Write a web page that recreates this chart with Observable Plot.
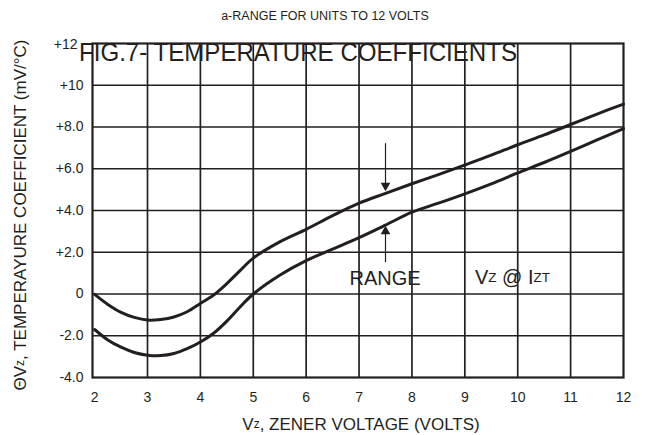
<!DOCTYPE html>
<html><head><meta charset="utf-8">
<script src="https://cdn.jsdelivr.net/npm/d3@7"></script>
<script src="https://cdn.jsdelivr.net/npm/@observablehq/plot@0.6"></script>
<style>body{margin:0;background:#fff;} svg{display:block;}</style>
</head><body><div id="chart"></div>
<script>
// Data
const voltage = [2.0,2.25,2.5,2.75,3.0,3.25,3.5,3.75,4.0,4.25,4.5,4.75,5.0,5.5,6.0,6.5,7.0,7.5,8.0,8.5,9.0,9.5,10.0,10.5,11.0,11.5,12.0];
const upperTC = [-0.02,-0.5,-0.88,-1.12,-1.25,-1.22,-1.1,-0.85,-0.45,-0.05,0.5,1.12,1.72,2.5,3.1,3.75,4.35,4.82,5.28,5.72,6.18,6.65,7.15,7.62,8.12,8.62,9.1];
const lowerTC = [-1.7,-2.2,-2.55,-2.8,-2.93,-2.95,-2.85,-2.62,-2.3,-1.88,-1.3,-0.62,0.0,0.9,1.6,2.15,2.7,3.3,3.92,4.35,4.8,5.28,5.8,6.3,6.83,7.38,7.92];
const xTicks = [2,3,4,5,6,7,8,9,10,11,12];
const yTicks = [-4,-2,0,2,4,6,8,10,12];
const yTickLabels = ["-4.0","-2.0","0","+2.0","+4.0","+6.0","+8.0","+10","+12"];
const arrowX = [7.5, 7.5];
const arrowFrom = [7.2, 1.5];
const arrowTo = [5.05, 3.14];
const arrowDir = ["down", "up"];
const titleText = "FIG.7- TEMPERATURE COEFFICIENTS";
const subtitleText = "a-RANGE FOR UNITS TO 12 VOLTS";

const ink = "#231f20";
const font = "'Liberation Sans', Arial, Helvetica, sans-serif";

const curves = [];
voltage.forEach((v, i) => {
  curves.push({series: "upper", v, tc: upperTC[i]});
  curves.push({series: "lower", v, tc: lowerTC[i]});
});
const arrows = arrowX.map((x, i) => ({x, y1: arrowFrom[i], y2: arrowTo[i], dir: arrowDir[i]}));
const labelMap = new Map(yTicks.map((t, i) => [t, yTickLabels[i]]));

const svg = Plot.plot({
  width: 650,
  height: 435,
  marginLeft: 92,
  marginRight: 27,
  marginTop: 43,
  marginBottom: 58,
  style: {fontFamily: font, fontSize: "14px", color: ink, background: "#fff"},
  x: {domain: [1.96, 12], label: null},
  y: {domain: [-4, 12], label: null},
  marks: [
    Plot.ruleX(xTicks.slice(1, -1), {stroke: ink, strokeWidth: 1.7}),
    Plot.ruleY(yTicks.slice(1, -1), {stroke: ink, strokeWidth: 1.7}),
    Plot.frame({stroke: ink, strokeWidth: 2.2}),
    Plot.axisX({ticks: xTicks, tickSize: 0, tickPadding: 15, fontSize: 14, label: null}),
    Plot.axisY({ticks: yTicks, tickSize: 0, tickPadding: 9, fontSize: 14, label: null, tickFormat: d => labelMap.get(d)}),
    Plot.line(curves, {x: "v", y: "tc", z: "series", stroke: ink, strokeWidth: 3, curve: "catmull-rom"}),
    Plot.ruleX(arrows, {x: "x", y1: "y1", y2: "y2", stroke: ink, strokeWidth: 1.2}),
    Plot.dot(arrows, {x: "x", y: "y2", symbol: "triangle", r: 3.6, fill: ink, stroke: null,
      rotate: d => d.dir === "down" ? 180 : 0})
  ]
});

const xs = svg.scale("x"), ys = svg.scale("y");
const S = d3.select(svg);

// the "+12" label sits a little left and up in the original
S.selectAll("text").filter(function(){ return this.textContent === "+12"; })
  .attr("dx", -6).attr("dy", "0.05em");

function addText(x, y, parts, opts = {}) {
  const t = S.append("text")
    .attr("x", x).attr("y", y)
    .attr("fill", ink)
    .attr("font-family", font)
    .attr("text-anchor", opts.anchor || "middle")
    .attr("dominant-baseline", "central");
  if (opts.rotate) t.attr("transform", `rotate(${opts.rotate},${x},${y})`);
  if (opts.textLength) t.attr("textLength", opts.textLength).attr("lengthAdjust", "spacingAndGlyphs");
  parts.forEach(([s, size]) => t.append("tspan").attr("font-size", size).text(s));
  return t;
}

addText(325, 16, [[subtitleText, 12.5]]);
addText(79, 52, [[titleText, 26]], {anchor: "start", textLength: 438});
addText(361, 424, [["V", 17], ["z", 12], [", ZENER VOLTAGE (VOLTS)", 17]]);
addText(20, 215, [["ΘV", 17], ["z", 12], [", TEMPERAYURE COEFFICIENT (mV/°C)", 17]], {rotate: -90});
addText(xs.apply(7.5), ys.apply(0.75), [["RANGE", 20]]);
addText(xs.apply(9.2), ys.apply(0.8), [["V", 20], ["Z", 13.5], [" @ I", 20], ["ZT", 13.5]], {anchor: "start"});

// offset triangles so their tips meet the arrow ends
S.selectAll("g[aria-label='dot'] path").each(function(d, i) {
  const el = d3.select(this);
  const tr = el.attr("transform") || "";
  const off = arrows[i] && arrows[i].dir === "down" ? -3 : 3;
  el.attr("transform", `translate(0,${off}) ` + tr);
});

document.getElementById("chart").appendChild(svg);
</script>
</body></html>
